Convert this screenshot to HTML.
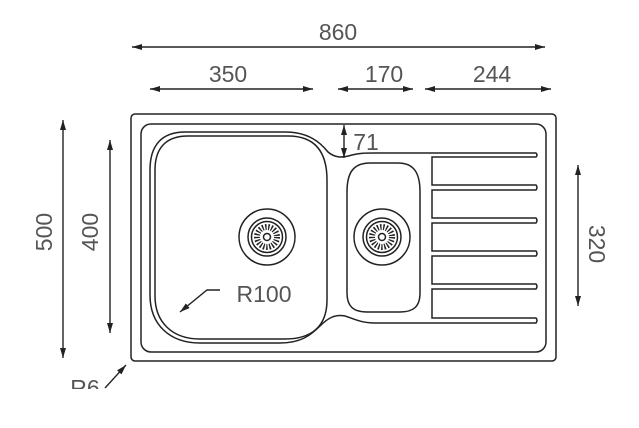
<!DOCTYPE html>
<html><head><style>html,body{margin:0;padding:0;background:#fff;width:639px;height:428px;overflow:hidden}</style></head><body>
<svg width="639" height="428" viewBox="0 0 639 428" xmlns="http://www.w3.org/2000/svg">
<defs><marker id="a" viewBox="0 0 10 6" refX="10" refY="3" markerWidth="10" markerHeight="6" orient="auto-start-reverse" markerUnits="userSpaceOnUse"><path d="M0,0 L10,3 L0,6 Z" fill="#222"/></marker></defs>
<g stroke="#222" stroke-width="1.4" fill="none" marker-start="url(#a)" marker-end="url(#a)">
<line x1="132" y1="47" x2="545" y2="47"/>
<line x1="150" y1="89" x2="313" y2="89"/>
<line x1="338" y1="89" x2="413" y2="89"/>
<line x1="425" y1="89" x2="551" y2="89"/>
<line x1="63" y1="120" x2="63" y2="358"/>
<line x1="110" y1="140" x2="110" y2="333"/>
<line x1="578" y1="165" x2="578" y2="306"/>
<line x1="344" y1="125" x2="344" y2="158"/>
</g>
<g font-family="Liberation Sans, sans-serif" font-size="23" fill="#555" text-anchor="middle">
<text x="338" y="40">860</text>
<text x="228" y="82">350</text>
<text x="384" y="82">170</text>
<text x="492" y="82">244</text>
<text x="366" y="150">71</text>
<text x="264" y="302">R100</text>
<text transform="translate(52,232) rotate(-90)">500</text>
<text transform="translate(98,232) rotate(-90)">400</text>
<text transform="translate(589,244) rotate(90)">320</text>
<text x="85" y="396">R6</text>
</g>
<g stroke="#222" stroke-width="1.5" fill="none">
<rect x="131" y="114" width="425" height="247" rx="4"/>
<rect x="141" y="124" width="405" height="228" rx="10"/>
<path d="M185,132 L285,132 C308,132 320,142 328,152 C335,158 342,158 352,155 C360,153 365,153 375,153 L536,153 Q538,155 536,157 L432,157 L432,185 L536,185 Q538,187.5 536,190 L432,190 L432,218 L536,218 Q538,220.5 536,223 L432,223 L432,251 L536,251 Q538,253.5 536,256 L432,256 L432,284 L536,284 Q538,286.5 536,289 L432,289 L432,318 L536,318 Q538,320.5 536,323 L375,323 C360,323 352,318 345,316 C335,314 328,318 320,326 C310,336 300,343 280,343 L200,343 C170,343 150,325 150,295 L150,170 C150,145 162,132 185,132 Z"/>
<path d="M188,136 L288,136 C315,136 327,152 327,180 L327,300 C327,326 312,339 285,339 L200,339 C172,339 155,322 155,296 L155,170 C155,148 166,136 188,136 Z"/>
<path d="M370,163 L398,163 C414,163 420,173 420,192 L420,293 C420,307 413,312 400,312 L367,312 C353,312 347,306 347,293 L347,192 C347,173 353,163 370,163 Z"/>
<circle cx="267" cy="237" r="28"/><circle cx="267" cy="237" r="19"/><circle cx="267" cy="237" r="15.5"/><circle cx="267" cy="237" r="3.5"/>
<circle cx="382" cy="237" r="28"/><circle cx="382" cy="237" r="19"/><circle cx="382" cy="237" r="15.5"/><circle cx="382" cy="237" r="3.5"/>
</g>
<g stroke="#222" stroke-width="6" stroke-dasharray="1.4 1.6" fill="none"><circle cx="267" cy="237" r="10"/><circle cx="382" cy="237" r="10"/></g>
<g stroke="#222" stroke-width="1.4" fill="none">
<path d="M220,290 L207,290 L180,312" marker-end="url(#a)"/>
<path d="M105,388 L126,365" marker-end="url(#a)"/>
</g>
<rect x="0" y="389" width="639" height="39" fill="#fff"/>
</svg>
</body></html>
